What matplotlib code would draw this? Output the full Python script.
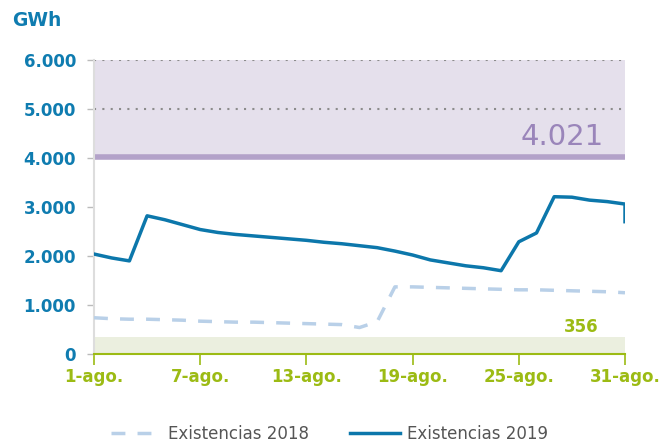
import matplotlib
matplotlib.use("Agg")
import matplotlib.pyplot as plt

days = list(range(1, 32))
exist_2019 = [2040, 1960, 1900, 2820, 2740, 2640, 2540, 2480, 2440, 2410, 2380, 2350, 2320,
              2280, 2250, 2210, 2170, 2100, 2020, 1920, 1860, 1800, 1760, 1700,
              2290, 2470, 3210, 3200, 3140, 3110, 3060]
exist_2019_end = 2700
exist_2018 = [740, 720, 710, 710, 700, 690, 670, 660, 650, 650, 640, 630, 620,
              610, 600, 540, 660, 1370, 1370, 1360, 1350, 1340, 1330, 1320, 1310,
              1310, 1300, 1290, 1280, 1270, 1250]
tick_days = [1, 7, 13, 19, 25, 31]
tick_labels = ["1-ago.", "7-ago.", "13-ago.", "19-ago.", "25-ago.", "31-ago."]
y_ticks = [0, 1000, 2000, 3000, 4000, 5000, 6000]
y_labels = ["0", "1.000", "2.000", "3.000", "4.000", "5.000", "6.000"]
upper_level = 4021
lower_level = 356

BLUE = "#0f7cb0"
GREEN = "#9cbb14"
PURPLE_TXT = "#9a85ba"

fig = plt.figure(figsize=(6.59, 4.42), dpi=100)
ax = fig.add_axes([94/659, 1-354/442, (625-94)/659, (354-60)/442])
ax.set_xlim(1, 31)
ax.set_ylim(0, 6000)

ax.axhspan(upper_level, 6000, color="#e5e0ec", zorder=0, lw=0)
ax.axhline(upper_level, color="#b3a2c9", lw=4, zorder=1)
ax.axhspan(0, lower_level, color="#ebefdf", zorder=0, lw=0)
for yv in [5000, 6000]:
    ax.axhline(yv, color="#8c8c8c", lw=1.5, ls=(0, (1, 3)), zorder=1)

ax.plot(days, exist_2018, color="#b9d0e8", lw=2.5, ls=(0, (4, 3.5)), label="Existencias 2018", zorder=3)
ax.plot(days + [31], exist_2019 + [exist_2019_end], color="#0c77ab", lw=2.5, label="Existencias 2019",
        zorder=4, solid_joinstyle="round")

ax.text(29.8, upper_level + 130, "4.021", color=PURPLE_TXT, fontsize=21, ha="right", va="bottom",
        family="DejaVu Sans")
ax.text(29.5, lower_level + 20, "356", color=GREEN, fontsize=12, fontweight="bold", ha="right",
        va="bottom", family="DejaVu Sans")

for s in ["top", "right"]:
    ax.spines[s].set_visible(False)
ax.spines["left"].set_color("#dddddd")
ax.spines["left"].set_linewidth(1.5)
ax.spines["bottom"].set_color(GREEN)
ax.spines["bottom"].set_linewidth(1.5)

ax.set_yticks(y_ticks)
ax.set_yticklabels(y_labels)
ax.set_xticks(tick_days)
ax.set_xticklabels(tick_labels)
ax.tick_params(axis="y", colors="#bbbbbb", length=5, width=1, labelcolor=BLUE, labelsize=12, pad=8)
ax.tick_params(axis="x", colors=GREEN, length=8, width=1.2, labelcolor=GREEN, labelsize=12, pad=2)
for lbl in ax.get_yticklabels() + ax.get_xticklabels():
    lbl.set_fontweight("bold")

fig.text(12/659, 1-20/442, "GWh", color=BLUE, fontsize=13.5, fontweight="bold", ha="left", va="center")

leg = fig.legend(loc="center", bbox_to_anchor=(0.5, 1-434/442), ncol=2, frameon=False,
                 fontsize=12, handlelength=3.0, columnspacing=2.5, handletextpad=0.4)
for t in leg.get_texts():
    t.set_color("#555555")

fig.savefig("out.png", dpi=100)
